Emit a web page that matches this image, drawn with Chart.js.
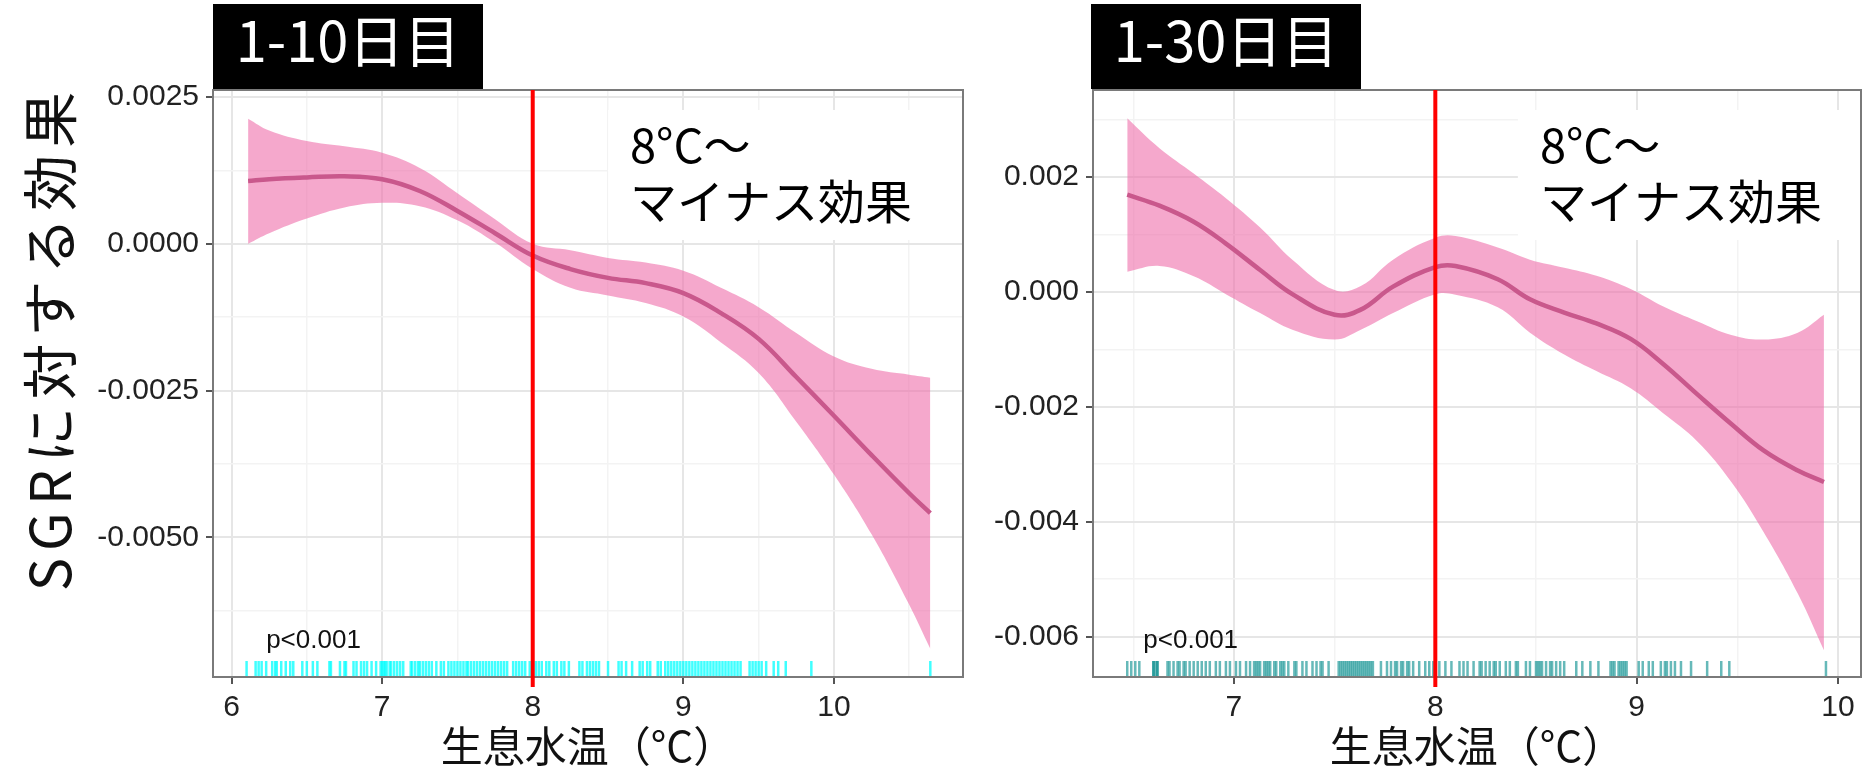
<!DOCTYPE html>
<html lang="ja">
<head>
<meta charset="utf-8">
<title>SGRに対する生息水温の効果</title>
<script src="https://cdn.jsdelivr.net/npm/chart.js@4.4.1/dist/chart.umd.min.js"></script>
<style>
  html, body { margin: 0; padding: 0; background: #fff; }
  body { width: 1870px; height: 771px; position: relative; overflow: hidden; font-family: "Noto Sans CJK JP", sans-serif; }
  canvas { position: absolute; }
  .strip { position: absolute; top: 4px; width: 270px; height: 85px; line-height: 67px; background: #000; color: #fff; font-size: 56px; text-align: center; white-space: nowrap; }
  .ytitle { position: absolute; left: 47px; top: 338px; transform: translate(-50%, -50%) rotate(-90deg); white-space: nowrap; font-size: 56px; line-height: 1; letter-spacing: 7px; color: #111; }
</style>
</head>
<body>
<div class="ytitle">SGRに対する効果</div>
<div class="strip" style="left:213px">1-10日目</div>
<div class="strip" style="left:1091px">1-30日目</div>
<canvas id="chartA" width="900" height="711" style="left:70px; top:60px"></canvas>
<canvas id="chartB" width="895" height="711" style="left:975px; top:60px"></canvas>
<script>
// ---- 1-10日目: smooth term for water temperature ----
const tempA  = [6.11, 6.25, 6.5, 6.75, 7.0, 7.25, 7.5, 7.75, 8.0, 8.25, 8.5, 8.75, 9.0, 9.25, 9.5, 9.75, 10.0, 10.25, 10.5, 10.64];
const fitA   = [0.00107, 0.00110, 0.00113, 0.00115, 0.00110, 0.00090, 0.00056, 0.00018, -0.00020, -0.00043, -0.00058, -0.00067, -0.00084, -0.00118, -0.00162, -0.00227, -0.00293, -0.00360, -0.00425, -0.00459];
const upperA = [0.00213, 0.00193, 0.00175, 0.00166, 0.00155, 0.00129, 0.00086, 0.00042, 0.00000, -0.00011, -0.00024, -0.00032, -0.00046, -0.00075, -0.00108, -0.00152, -0.00192, -0.00213, -0.00223, -0.00228];
const lowerA = [0.00000, 0.00018, 0.00043, 0.00062, 0.00070, 0.00064, 0.00040, 0.00002, -0.00043, -0.00075, -0.00088, -0.00101, -0.00124, -0.00168, -0.00220, -0.00303, -0.00393, -0.00495, -0.00615, -0.00690];
const rugA = [6.10, 6.16, 6.18, 6.20, 6.23, 6.27, 6.29, 6.30, 6.33, 6.36, 6.39, 6.41, 6.47, 6.50, 6.54, 6.57, 6.65, 6.66,
  6.72, 6.75, 6.76, 6.81, 6.83, 6.86, 6.88, 6.90, 6.93, 6.96, 6.99, 7.00, 7.01, 7.02, 7.03, 7.05, 7.06, 7.08, 7.10, 7.12,
  7.14, 7.19, 7.20, 7.22, 7.24, 7.25, 7.27, 7.29, 7.31, 7.33, 7.36, 7.39, 7.41, 7.44, 7.46, 7.48, 7.50, 7.52, 7.54, 7.56,
  7.57, 7.59, 7.61, 7.63, 7.65, 7.67, 7.69, 7.71, 7.73, 7.75, 7.77, 7.79, 7.81, 7.83, 7.87, 7.89, 7.91, 7.93, 7.95, 7.98,
  8.00, 8.02, 8.04, 8.06, 8.09, 8.11, 8.14, 8.16, 8.19, 8.21, 8.24, 8.31, 8.33, 8.36, 8.38, 8.40, 8.42, 8.44, 8.50, 8.57,
  8.59, 8.62, 8.66, 8.71, 8.73, 8.76, 8.78, 8.83, 8.85, 8.88, 8.90, 8.92, 8.94, 8.96, 8.98, 9.00, 9.02, 9.04, 9.06, 9.08,
  9.10, 9.12, 9.14, 9.16, 9.18, 9.20, 9.22, 9.24, 9.26, 9.28, 9.30, 9.32, 9.34, 9.36, 9.38, 9.44, 9.46, 9.48, 9.50, 9.52,
  9.55, 9.60, 9.63, 9.68, 9.85, 10.64];
const xTicksA = [6, 7, 8, 9, 10];
const yTicksA = [-0.005, -0.0025, 0, 0.0025];

// ---- 1-30日目 ----
const tempB  = [6.47, 6.63, 6.80, 6.96, 7.13, 7.29, 7.50, 7.63, 7.79, 8.00, 8.10, 8.31, 8.47, 8.64, 8.80, 8.97, 9.13, 9.30, 9.47, 9.63, 9.80, 9.93];
const fitB   = [0.00169, 0.00150, 0.00122, 0.00084, 0.00038, -0.00004, -0.00040, -0.00031, 0.00009, 0.00043, 0.00045, 0.00022, -0.00013, -0.00036, -0.00055, -0.00082, -0.00125, -0.00178, -0.00230, -0.00276, -0.00311, -0.00331];
const upperB = [0.00302, 0.00250, 0.00206, 0.00163, 0.00112, 0.00056, 0.00003, 0.00010, 0.00056, 0.00094, 0.00097, 0.00077, 0.00056, 0.00042, 0.00028, 0.00005, -0.00025, -0.00051, -0.00075, -0.00083, -0.00071, -0.00040];
const lowerB = [0.00035, 0.00045, 0.00027, -0.00004, -0.00037, -0.00066, -0.00083, -0.00066, -0.00037, -0.00004, -0.00005, -0.00027, -0.00071, -0.00109, -0.00138, -0.00168, -0.00211, -0.00260, -0.00331, -0.00418, -0.00525, -0.00624];
const rugB = [6.47, 6.49, 6.51, 6.53, 6.60, 6.60, 6.61, 6.62, 6.62, 6.67, 6.68, 6.70, 6.72, 6.73, 6.75, 6.76, 6.78, 6.80,
  6.82, 6.84, 6.86, 6.88, 6.91, 6.93, 6.96, 6.98, 7.01, 7.03, 7.06, 7.08, 7.10, 7.11, 7.12, 7.13, 7.15, 7.16, 7.17, 7.18,
  7.20, 7.21, 7.23, 7.24, 7.25, 7.27, 7.30, 7.31, 7.34, 7.36, 7.39, 7.41, 7.43, 7.44, 7.47, 7.52, 7.53, 7.54, 7.55, 7.56,
  7.57, 7.58, 7.59, 7.60, 7.61, 7.62, 7.63, 7.64, 7.65, 7.66, 7.67, 7.68, 7.69, 7.73, 7.76, 7.78, 7.80, 7.81, 7.83, 7.84,
  7.86, 7.87, 7.89, 7.92, 7.95, 7.97, 7.99, 8.02, 8.05, 8.08, 8.12, 8.14, 8.16, 8.19, 8.22, 8.23, 8.25, 8.27, 8.29, 8.30,
  8.32, 8.35, 8.37, 8.40, 8.41, 8.45, 8.47, 8.50, 8.51, 8.52, 8.53, 8.55, 8.57, 8.58, 8.60, 8.62, 8.64, 8.70, 8.73, 8.77,
  8.81, 8.87, 8.88, 8.89, 8.91, 8.92, 8.93, 8.94, 8.95, 9.01, 9.03, 9.06, 9.08, 9.12, 9.14, 9.15, 9.17, 9.19, 9.22, 9.27,
  9.35, 9.42, 9.46, 9.94];
const xTicksB = [7, 8, 9, 10];
const yTicksB = [-0.006, -0.004, -0.002, 0, 0.002];

const threshold = 8;            // °C, where the effect turns negative
const noteLines = ['8°C～', 'マイナス効果'];
const pLabel = 'p<0.001';
const xTitle = '生息水温（°C）';

Chart.defaults.font.family = '"Liberation Sans", Arial, sans-serif';

// majors plus the half-step minors that fall inside the panel
function gridValues(majors, min, max) {
  const half = (majors[1] - majors[0]) / 2;
  const out = majors.slice();
  for (let i = -1; i < majors.length; i++) {
    const v = i < 0 ? majors[0] - half : majors[i] + half;
    if (v > min && v < max) out.push(v);
  }
  return out.sort((a, b) => a - b);
}

const panelDecor = {
  id: 'panelDecor',
  beforeDatasetsDraw(chart, args, opts) {
    const {ctx, chartArea: a, scales: {x}} = chart;
    const left = x.getPixelForValue(opts.noteFrom);
    const right = Math.min(x.getPixelForValue(opts.noteTo), a.right);
    ctx.save();
    ctx.fillStyle = '#fff';
    ctx.fillRect(left, a.top + 20, right - left, 130);
    ctx.fillStyle = '#000';
    ctx.font = '47px "Noto Sans CJK JP"';
    ctx.textBaseline = 'alphabetic';
    ctx.fillText(noteLines[0], left + 22, a.top + 73);
    ctx.fillText(noteLines[1], left + 22, a.top + 129);
    ctx.restore();
  },
  afterDatasetsDraw(chart, args, opts) {
    const {ctx, chartArea: a, scales: {x}} = chart;
    ctx.save();
    // rug of observed temperatures
    ctx.strokeStyle = opts.rugColor;
    ctx.lineWidth = 2.5;
    opts.rug.forEach(t => {
      const px = x.getPixelForValue(t);
      ctx.beginPath();
      ctx.moveTo(px, a.bottom - 16);
      ctx.lineTo(px, a.bottom);
      ctx.stroke();
    });
    // panel border
    ctx.strokeStyle = '#7a7a7a';
    ctx.lineWidth = 2;
    ctx.strokeRect(a.left, a.top, a.right - a.left, a.bottom - a.top);
    // 8 °C threshold
    const tx = x.getPixelForValue(threshold);
    ctx.strokeStyle = '#ff0000';
    ctx.lineWidth = 4;
    ctx.beginPath();
    ctx.moveTo(tx, a.top);
    ctx.lineTo(tx, a.bottom + 10);
    ctx.stroke();
    // significance
    ctx.fillStyle = '#111';
    ctx.font = '26px "Liberation Sans"';
    ctx.fillText(pLabel, x.getPixelForValue(opts.pAt), a.bottom - 29);
    ctx.restore();
  }
};

function makeChart(id, d) {
  const xGrid = gridValues(d.xTicks, d.xMin, d.xMax);
  const yGrid = gridValues(d.yTicks, d.yMin, d.yMax);
  const xMajor = new Set(d.xTicks);
  const yMajor = new Set(d.yTicks);
  const pts = ys => d.temp.map((t, i) => ({x: t, y: ys[i]}));
  const gridOpts = majors => ({
    color: c => majors.has(c.tick && c.tick.value) ? '#e6e6e6' : '#f3f3f3',
    lineWidth: c => majors.has(c.tick && c.tick.value) ? 2 : 1.5,
    tickColor: c => majors.has(c.tick && c.tick.value) ? '#555' : 'rgba(0,0,0,0)',
    tickLength: 7,
    tickWidth: 2
  });

  return new Chart(document.getElementById(id), {
    type: 'line',
    data: {
      datasets: [
        { data: pts(d.fit), borderColor: '#c9588c', borderWidth: 4.5, pointRadius: 0, tension: 0.4, fill: false },
        { data: pts(d.upper), borderWidth: 0, pointRadius: 0, tension: 0.4,
          backgroundColor: 'rgba(238,110,170,0.6)', fill: '+1' },
        { data: pts(d.lower), borderWidth: 0, pointRadius: 0, tension: 0.4, fill: false }
      ]
    },
    options: {
      responsive: false,
      animation: false,
      events: [],
      layout: { autoPadding: false, padding: { top: 30, right: d.padRight, left: 0, bottom: 0 } },
      plugins: {
        legend: { display: false },
        tooltip: { enabled: false },
        panelDecor: { noteFrom: d.noteFrom, noteTo: d.xMax, rug: d.rug, rugColor: d.rugColor, pAt: d.pAt }
      },
      scales: {
        x: {
          type: 'linear', min: d.xMin, max: d.xMax,
          afterBuildTicks: s => { s.ticks = xGrid.map(v => ({value: v})); },
          afterFit: s => { s.height = 94; },
          ticks: { autoSkip: false, maxRotation: 0, padding: 6, color: '#222', font: { size: 30 },
                   callback: v => xMajor.has(v) ? String(v) : '' },
          grid: gridOpts(xMajor),
          border: { display: false },
          title: { display: true, text: xTitle, color: '#111', padding: { top: 0, bottom: 0 },
                   font: { family: '"Noto Sans CJK JP"', size: 42 } }
        },
        y: {
          type: 'linear', min: d.yMin, max: d.yMax,
          afterBuildTicks: s => { s.ticks = yGrid.map(v => ({value: v})); },
          afterFit: s => { s.width = d.yWidth; },
          ticks: { autoSkip: false, padding: 7, color: '#222', font: { size: 30 },
                   callback: v => yMajor.has(v) ? v.toFixed(d.digits) : '' },
          grid: gridOpts(yMajor),
          border: { display: false }
        }
      }
    },
    plugins: [panelDecor]
  });
}

makeChart('chartA', {
  temp: tempA, fit: fitA, upper: upperA, lower: lowerA, rug: rugA,
  xTicks: xTicksA, yTicks: yTicksA, xMin: 5.877, xMax: 10.857, yMin: -0.00738, yMax: 0.00262,
  digits: 4, yWidth: 143, padRight: 7, noteFrom: 8.5, pAt: 6.23, rugColor: 'rgba(0,255,255,0.75)'
});

makeChart('chartB', {
  temp: tempB, fit: fitB, upper: upperB, lower: lowerB, rug: rugB,
  xTicks: xTicksB, yTicks: yTicksB, xMin: 6.30, xMax: 10.114, yMin: -0.006704, yMax: 0.003513,
  digits: 3, yWidth: 118, padRight: 9, noteFrom: 8.41, pAt: 6.55, rugColor: 'rgba(0,139,139,0.6)'
});
</script>
</body>
</html>
